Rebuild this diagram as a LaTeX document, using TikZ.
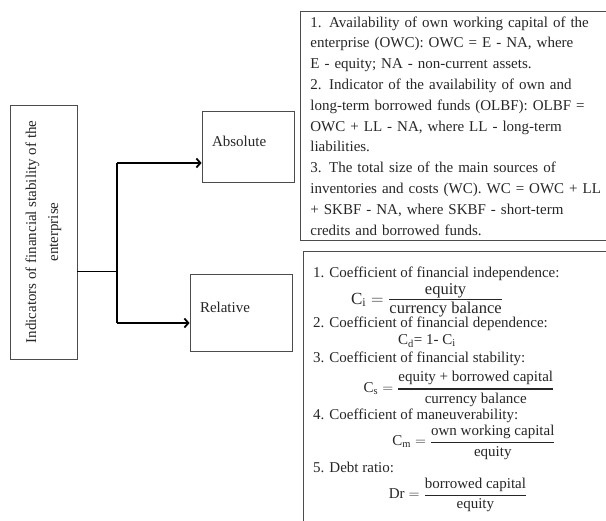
\documentclass[tikz,border=0pt]{standalone}
\usepackage{amsmath}
\usepackage{fontspec}
\setmainfont{Liberation Serif}
\usetikzlibrary{arrows.meta}
\tikzset{boxline/.style={draw=black!70, line width=0.8pt},
  catbox/.style={boxline, align=left, inner xsep=10pt, inner ysep=0pt, text depth=11pt},
  listbox/.style={boxline, anchor=north west, align=left, inner xsep=10pt, inner ysep=0pt},
  rowtext/.style={anchor=base west, inner sep=0pt},
  ratio/.style={inner sep=0pt},
  branch/.style={line width=1.8pt, -{Straight Barb[length=4pt,width=9pt]}}}
\newcommand{\ratiofrac}[2]{\genfrac{}{}{1.1pt}{0}{\text{#1}}{\text{#2}}}
\newcommand{\bigratio}[2]{\genfrac{}{}{1.3pt}{1}{\text{\fontsize{16.5}{16.5}\selectfont #1\rule[-3.5pt]{0pt}{1pt}}}{\text{\fontsize{16.5}{16.5}\selectfont #2}}}

\begin{document}
\begin{tikzpicture}[x=1pt,y=-1pt,font=\fontsize{15}{20.8}\selectfont,text=black!85]
\useasboundingbox (0,0) rectangle (606,521);
\clip (0,0) rectangle (606,521);
\node[boxline, rotate=90, minimum width=254pt, minimum height=67pt, align=center, inner sep=0pt,
  font=\fontsize{15}{22}\selectfont] (indicators) at (43.5,232) {Indicators of financial stability of the\\enterprise};
\node[catbox, text width=72pt, minimum height=71pt] (absolute) at (248,146.5) {Absolute};
\node[catbox, text width=82pt, minimum height=77pt] (relative) at (241,312.5) {Relative};
\coordinate (fork) at (117,271);
\coordinate (forktop) at (117,163);
\coordinate (forkbot) at (117,323);
\draw[line width=0.8pt] (indicators.south |- fork) -- (fork);
\draw[line width=1.6pt] (forktop) -- (forkbot);
\draw[branch] (forktop) -- (forktop -| absolute.west);
\draw[branch] (forkbot) -- (forkbot -| relative.west);
% absolute indicators
\node[listbox, text width=300pt, minimum height=229pt] (absnotes) at (300,11) {1. Availability of own working capital of the\\
enterprise (OWC): OWC = E - NA, where\\
E - equity; NA - non-current assets.\\
2. Indicator of the availability of own and\\
long-term borrowed funds (OLBF): OLBF =\\
OWC + LL - NA, where LL - long-term\\
liabilities.\\
3. The total size of the main sources of\\
inventories and costs (WC). WC = OWC + LL\\
+ SKBF - NA, where SKBF - short-term\\
credits and borrowed funds.};
% relative indicators
\node[boxline, anchor=north west, minimum width=330pt, minimum height=300pt, inner sep=0pt] (relnotes) at (303,251) {};
\node[rowtext] (cihead) at (313,278) {1. Coefficient of financial independence:};
\node[ratio, font=\fontsize{17}{18}\selectfont] (ci) at (427,300) {$\text{C}_{\text{i}} = \bigratio{equity}{currency balance}$};
\node[rowtext] (cdhead) at (313,328) {2. Coefficient of financial dependence:};
\node[ratio] (cd) at (427,341) {C\textsubscript{d}= 1- C\textsubscript{i}};
\node[rowtext] (cshead) at (313,363) {3. Coefficient of financial stability:};
\node[ratio] (cs) at (459,389) {$\text{C}_{\text{s}} = \ratiofrac{equity + borrowed capital}{currency balance}$};
\node[rowtext] (cmhead) at (313,420) {4. Coefficient of maneuverability:};
\node[ratio] (cm) at (474,442) {$\text{C}_{\text{m}} = \ratiofrac{own working capital}{equity}$};
\node[rowtext] (drhead) at (313,473) {5. Debt ratio:};
\node[ratio] (dr) at (458,495) {$\text{Dr} = \ratiofrac{borrowed capital}{equity}$};
\end{tikzpicture}
\end{document}
